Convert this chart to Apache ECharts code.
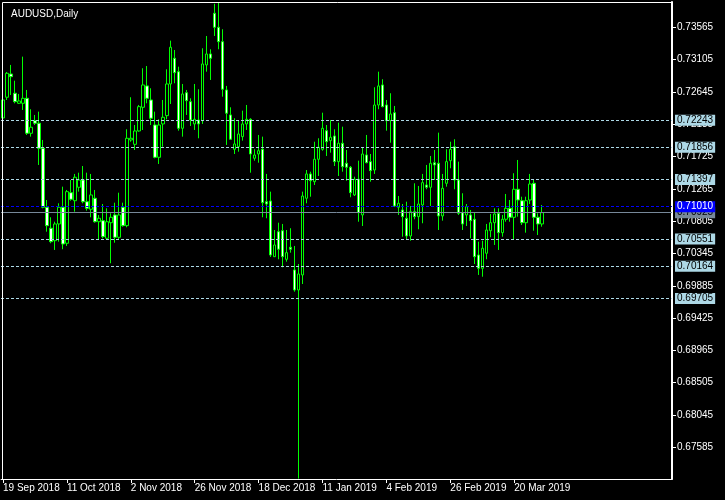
<!DOCTYPE html>
<html><head><meta charset="utf-8">
<script src="https://cdn.jsdelivr.net/npm/echarts@6/dist/echarts.min.js"></script>
<style>html,body{margin:0;padding:0;background:#000}#c{width:725px;height:500px}</style>
</head><body><div id="c"></div>
<script>
const symbolTitle = 'AUDUSD,Daily';
const startDate = '2018-09-19';
const holidays = ['2018-12-25', '2019-01-01'];
const monthNames = ['Jan','Feb','Mar','Apr','May','Jun','Jul','Aug','Sep','Oct','Nov','Dec'];
const totalSlots = 168;

const opens = [0.72274,0.72569,0.72900,0.72626,0.72483,0.72483,0.72554,0.72056,0.72236,0.72199,
0.71842,0.71003,0.70704,0.70527,0.70765,0.71003,0.70490,0.71210,0.71096,0.71287,
0.71391,0.71082,0.70974,0.71131,0.70797,0.70812,0.70561,0.70783,0.70893,0.70575,
0.71003,0.70741,0.71961,0.71899,0.72089,0.72426,0.72730,0.72530,0.72174,0.71714,
0.72189,0.72307,0.72758,0.73124,0.72933,0.72127,0.72634,0.72506,0.72189,0.72245,
0.72236,0.73029,0.73185,0.73765,0.73565,0.73360,0.72673,0.72317,0.71828,0.71865,
0.72008,0.72189,0.72255,0.71700,0.71761,0.71828,0.71082,0.71092,0.70299,0.70655,
0.70669,0.70262,0.70433,0.70110,0.69825,0.70039,0.71131,0.71477,0.71367,0.71686,
0.71828,0.72093,0.71951,0.72018,0.71652,0.71914,0.71629,0.71572,0.71178,0.71401,
0.70893,0.71747,0.71652,0.71533,0.72459,0.72744,0.72459,0.72236,0.72349,0.71003,
0.70964,0.70846,0.70594,0.70940,0.70869,0.71035,0.71320,0.71287,0.71637,0.71629,
0.70879,0.71344,0.71666,0.71865,0.71391,0.70926,0.70893,0.70893,0.70832,0.70323,
0.70134,0.70348,0.70669,0.70783,0.70917,0.70641,0.70832,0.70988,0.70860,0.71259,
0.71096,0.70783,0.71106,0.71344,0.70860,0.70765];

const closes = [0.72530,0.72910,0.72862,0.72506,0.72516,0.72554,0.72056,0.72142,0.72199,0.71842,
0.71003,0.70741,0.70513,0.70765,0.71003,0.70480,0.71225,0.71116,0.71430,0.71391,
0.71082,0.70988,0.71178,0.70797,0.70846,0.70584,0.70797,0.70860,0.70575,0.70893,
0.70741,0.71985,0.71985,0.72089,0.72435,0.72744,0.72554,0.72270,0.71714,0.72174,
0.72284,0.72758,0.73281,0.72919,0.72127,0.72616,0.72520,0.72245,0.72255,0.72189,
0.73043,0.73185,0.73124,0.73565,0.73360,0.72683,0.72341,0.71971,0.71904,0.72046,
0.72189,0.72255,0.71761,0.71747,0.71808,0.71068,0.71049,0.70323,0.70466,0.70405,
0.70299,0.70356,0.70405,0.69825,0.70053,0.71163,0.71477,0.71381,0.71686,0.71857,
0.72127,0.71936,0.71999,0.71652,0.71914,0.71580,0.71572,0.71210,0.71401,0.70926,
0.71761,0.71637,0.71524,0.72459,0.72730,0.72435,0.72236,0.72331,0.71021,0.71059,
0.70869,0.70594,0.70940,0.70869,0.71049,0.71353,0.71287,0.71629,0.71605,0.70879,
0.71273,0.71652,0.71828,0.71391,0.70917,0.70765,0.71011,0.70812,0.70299,0.70134,
0.70419,0.70679,0.70783,0.70907,0.70641,0.70832,0.70988,0.70860,0.71259,0.71106,
0.70783,0.71096,0.71334,0.70860,0.70765,0.70926];

const lows = [0.72103,0.72530,0.72601,0.72483,0.72473,0.72388,0.72032,0.72008,0.72174,0.71605,
0.70988,0.70655,0.70490,0.70395,0.70513,0.70405,0.70452,0.71096,0.70940,0.71225,
0.71059,0.70954,0.70860,0.70783,0.70547,0.70561,0.70547,0.70205,0.70498,0.70537,
0.70726,0.70718,0.71936,0.71818,0.72079,0.72103,0.72483,0.72174,0.71700,0.71619,
0.71865,0.72255,0.72473,0.72768,0.72093,0.72008,0.72317,0.72160,0.72103,0.71985,
0.72189,0.72933,0.72815,0.73441,0.73252,0.72577,0.71890,0.71961,0.71761,0.71794,
0.71951,0.72103,0.71495,0.71666,0.71637,0.70860,0.70846,0.70295,0.70295,0.70262,
0.70148,0.70228,0.70356,0.69801,0.67140,0.69910,0.71059,0.71153,0.71320,0.71448,
0.71808,0.71733,0.71780,0.71590,0.71448,0.71509,0.71381,0.71145,0.71163,0.70797,
0.70736,0.71629,0.71367,0.71477,0.72398,0.72426,0.72093,0.71922,0.71011,0.70893,
0.70584,0.70547,0.70527,0.70832,0.70689,0.70775,0.71259,0.71021,0.71391,0.70679,
0.70812,0.71296,0.71558,0.71259,0.70893,0.70679,0.70736,0.70561,0.70195,0.70039,
0.70014,0.70262,0.70575,0.70466,0.70395,0.70584,0.70797,0.70797,0.70547,0.70869,
0.70750,0.70641,0.71049,0.70669,0.70608,0.70726];

const highs = [0.72601,0.72929,0.73029,0.72805,0.72616,0.73147,0.72673,0.72398,0.72317,0.72364,
0.71961,0.71106,0.70860,0.70797,0.71059,0.71296,0.71249,0.71391,0.71477,0.71495,
0.71590,0.71495,0.71477,0.71249,0.70893,0.71049,0.70988,0.70917,0.71068,0.71210,
0.71068,0.72113,0.72569,0.72174,0.72459,0.72982,0.73014,0.72697,0.72364,0.72255,
0.72530,0.72967,0.73375,0.73242,0.73004,0.72758,0.72673,0.72554,0.72758,0.72683,
0.73266,0.73441,0.73252,0.73900,0.73916,0.73537,0.72730,0.72426,0.72270,0.72236,
0.72378,0.72459,0.72270,0.71828,0.72032,0.72008,0.71477,0.71225,0.70679,0.70783,
0.70765,0.70679,0.70704,0.70452,0.70195,0.71225,0.71533,0.71509,0.71936,0.71985,
0.72349,0.72174,0.72245,0.72113,0.72207,0.72150,0.71818,0.71590,0.71438,0.71666,
0.71857,0.72032,0.71761,0.72711,0.72933,0.72825,0.72530,0.72626,0.72445,0.71163,
0.71049,0.71082,0.71021,0.71344,0.71306,0.71477,0.71605,0.71733,0.71818,0.72065,
0.71477,0.71828,0.71936,0.71971,0.71652,0.71202,0.71049,0.70964,0.70926,0.70513,
0.70527,0.70765,0.70907,0.70988,0.70988,0.70893,0.71192,0.71106,0.71487,0.71676,
0.71153,0.71153,0.71477,0.71391,0.70917,0.71035];

const levelLines = [0.72243, 0.71856, 0.71397, 0.70551, 0.70164, 0.69705];
const blueLine = 0.71010;
const bidLine = 0.70925;
const priceTicks = [0.73565,0.73105,0.72645,0.72185,0.71725,0.71265,0.70805,0.70345,0.69885,0.69425,0.68965,0.68505,0.68045,0.67585];
const priceMin = 0.67134;
const priceMax = 0.73925;

// trading-day categories
const categories = [];
(function(){
  let d = new Date(startDate + 'T00:00:00Z');
  while (categories.length < opens.length) {
    const wd = d.getUTCDay();
    const iso = d.toISOString().slice(0,10);
    if (wd !== 0 && wd !== 6 && holidays.indexOf(iso) < 0) {
      categories.push(d.getUTCDate() + ' ' + monthNames[d.getUTCMonth()] + ' ' + d.getUTCFullYear());
    }
    d = new Date(d.getTime() + 86400000);
  }
  while (categories.length < totalSlots) categories.push('');
})();

const FONT = "'Liberation Sans', Arial, sans-serif";
const ohlc = opens.map((o, i) => [o, closes[i], lows[i], highs[i]]);
const showEvery = (i, v) => v !== '' && i % 16 === 0;

function levelItem(v, lineColor, lineType, boxColor, textColor) {
  return {
    yAxis: v,
    lineStyle: { color: lineColor, type: lineType, width: 1 },
    label: {
      show: true, position: 'end', distance: 3,
      formatter: () => v.toFixed(5),
      color: textColor, backgroundColor: boxColor,
      padding: [1, 2, 0, 2], fontSize: 10, fontFamily: FONT
    }
  };
}

const chart = echarts.init(document.getElementById('c'), null, { renderer: 'canvas' });
chart.setOption({
  backgroundColor: '#000000',
  animation: false,
  title: {
    text: symbolTitle, left: 6, top: 4,
    textStyle: { color: '#ffffff', fontSize: 10, fontWeight: 'normal', fontFamily: FONT }
  },
  grid: { left: 0, right: 53, top: 2, bottom: 21 },
  xAxis: {
    type: 'category', data: categories, boundaryGap: true,
    axisLine: { show: true, lineStyle: { color: '#ffffff', width: 1 } },
    axisTick: { show: true, alignWithLabel: true, interval: showEvery, length: 4, lineStyle: { color: '#ffffff' } },
    axisLabel: { interval: showEvery, align: 'left', color: '#ffffff', margin: 4, fontSize: 10, fontFamily: FONT },
    splitLine: { show: false }
  },
  yAxis: {
    type: 'value', position: 'right', min: priceMin, max: priceMax, scale: true,
    axisLine: { show: true, lineStyle: { color: '#ffffff', width: 2 } },
    axisTick: { show: true, length: 4, customValues: priceTicks, lineStyle: { color: '#ffffff' } },
    axisLabel: { customValues: priceTicks, formatter: v => v.toFixed(5), color: '#ffffff', margin: 5, fontSize: 10, fontFamily: FONT },
    splitLine: { show: false }
  },
  graphic: [
    { type: 'line', z: 100, shape: { x1: 2.5, y1: 2.5, x2: 2.5, y2: 479 }, style: { stroke: '#ffffff', lineWidth: 1 } },
    { type: 'line', z: 100, shape: { x1: 2.5, y1: 2.5, x2: 672, y2: 2.5 }, style: { stroke: '#ffffff', lineWidth: 1 } }
  ],
  series: [{
    type: 'candlestick',
    data: ohlc,
    barWidth: 3,
    itemStyle: {
      color: '#000000', color0: '#ffffff',
      borderColor: '#00ff00', borderColor0: '#00ff00', borderColorDoji: '#00ff00',
      borderWidth: 1
    },
    markLine: {
      symbol: 'none', silent: true, animation: false, precision: 5,
      data: levelLines.map(v => levelItem(v, '#add8e6', [3, 2], '#add8e6', '#000000'))
        .concat([levelItem(bidLine, '#778899', 'solid', '#778899', '#000000'),
                 levelItem(blueLine, '#0000ff', [3, 2], '#0000ff', '#ffffff')])
    }
  }]
});
</script></body></html>
